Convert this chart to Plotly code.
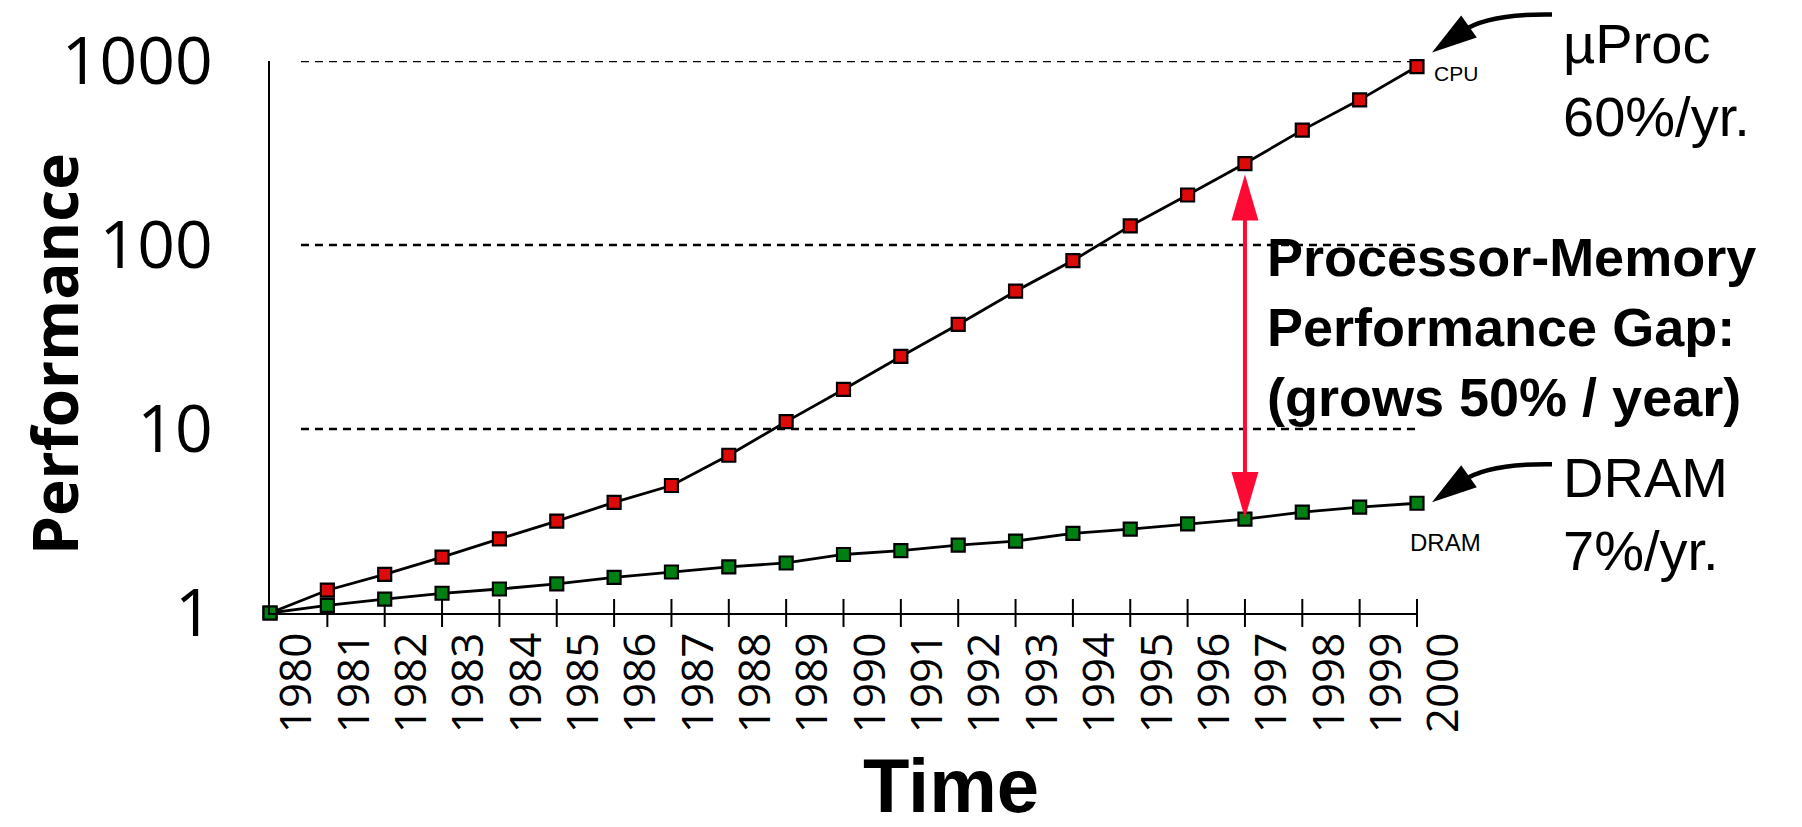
import math
import plotly.graph_objects as go

# ---------------- data ----------------
years = list(range(1980, 2001))
year_labels = [str(y) for y in years]
cpu_perf = [1.0, 1.33, 1.62, 2.01, 2.53, 3.16, 3.99, 4.93, 7.2, 10.97, 16.4,
            24.8, 37.0, 56.1, 82.3, 127, 187, 277, 421, 615, 933]
dram_perf = [1.0, 1.10, 1.19, 1.28, 1.35, 1.44, 1.56, 1.67, 1.78, 1.87, 2.08,
             2.18, 2.34, 2.46, 2.71, 2.86, 3.05, 3.24, 3.53, 3.76, 3.95]
y_tick_values = [1, 10, 100, 1000]
y_tick_labels = ["1", "10", "100", "1000"]
gap_year = 1997

# ---------------- layout geometry ----------------
W, H = 1802, 827
DX, DY = -8, -8
L, R, T, B = 270 + DX, 1417 + DX, 61 + DY, 613 + DY
X_RANGE = [years[0], years[-1]]
Y_RANGE = [math.log10(y_tick_values[0]), math.log10(y_tick_values[-1])]


def px(xp):
    return (xp + DX - L) / (R - L)


def py(yp):
    return (B - (yp + DY)) / (B - T)


def apx(xp):
    return (xp - L) / (R - L)


def apy(yp):
    return (B - yp) / (B - T)


def xfrac(v):
    return (v - X_RANGE[0]) / (X_RANGE[1] - X_RANGE[0])


def yfrac(v):
    return (math.log10(v) - Y_RANGE[0]) / (Y_RANGE[1] - Y_RANGE[0])


RED = "#dd0a0a"
GREEN = "#007f12"
GAPRED = "#ff0a35"

fig = go.Figure()

# crossing tick marks on the time axis
fig.add_trace(go.Scatter(
    x=years[1:], y=[y_tick_values[0]] * (len(years) - 1), mode="markers",
    marker=dict(symbol="line-ns", size=20, line=dict(width=2, color="black")),
    hoverinfo="skip", showlegend=False, cliponaxis=False))

fig.add_trace(go.Scatter(
    x=years, y=cpu_perf, mode="lines+markers", name="CPU",
    line=dict(color="black", width=2.8),
    marker=dict(symbol="square", size=13, color=RED, line=dict(color="black", width=2.2)),
    showlegend=False, cliponaxis=False))

fig.add_trace(go.Scatter(
    x=years, y=dram_perf, mode="lines+markers", name="DRAM",
    line=dict(color="black", width=2.8),
    marker=dict(symbol="square", size=13, color=GREEN, line=dict(color="black", width=2.2)),
    showlegend=False, cliponaxis=False))

shapes = []
# dashed reference lines at the decade ticks
for v in y_tick_values[1:]:
    shapes.append(dict(type="line", xref="x", yref="y", x0=years[0] + 0.54, x1=years[-1],
                       y0=v, y1=v, line=dict(color="black", width=2.4, dash="8px,6px"),
                       layer="below"))

gi = years.index(gap_year)
# red double arrow heads (pixel sized, anchored on the data points)
shapes.append(dict(type="path", xref="x", yref="y", xsizemode="pixel", ysizemode="pixel",
                   xanchor=gap_year, yanchor=cpu_perf[gi],
                   path="M0,-11 L-13.5,-57 L13.5,-57 Z",
                   fillcolor=GAPRED, line=dict(width=0)))
shapes.append(dict(type="path", xref="x", yref="y", xsizemode="pixel", ysizemode="pixel",
                   xanchor=gap_year, yanchor=dram_perf[gi],
                   path="M0,1 L-13.5,47 L13.5,47 Z",
                   fillcolor=GAPRED, line=dict(width=0)))


# black curved pointer arrows to the last points (paper refs so they are not clipped)
def pointer(anchor_val, tx, ty):
    def p(dx, dy):
        return f"{tx + dx:.1f},{ty + dy:.1f}"
    common = dict(type="path", xref="paper", yref="paper", xsizemode="pixel",
                  ysizemode="pixel", xanchor=xfrac(years[-1]), yanchor=yfrac(anchor_val))
    head = dict(common, path=f"M{p(0, 0)} L{p(29.2, 37.0)} L{p(44.8, 15.0)} Z",
                fillcolor="black", line=dict(width=0))
    shaft = dict(common, path=f"M{p(30, 21)} Q{p(56, 39)} {p(120, 38)}",
                 fillcolor="rgba(0,0,0,0)", line=dict(width=4.5, color="black"))
    return [head, shaft]


shapes += pointer(cpu_perf[-1], 15, 14)
shapes += pointer(dram_perf[-1], 15, 1)

annotations = [
    # red shaft between the two curves
    dict(x=gap_year, y=math.log10(dram_perf[gi]), ax=gap_year, ay=math.log10(cpu_perf[gi]),
         xref="x", yref="y", axref="x", ayref="y", text="", showarrow=True,
         arrowhead=0, arrowwidth=4, arrowcolor=GAPRED, standoff=20, startstandoff=40),
    dict(x=px(1265), y=py(327), xref="paper", yref="paper", xanchor="left", yanchor="middle",
         align="left", showarrow=False,
         text="Processor-Memory<br>Performance Gap:<br>(grows 50% / year)",
         font=dict(family="Liberation Sans", size=54, color="black", weight="bold")),
    dict(x=px(1561), y=py(80), xref="paper", yref="paper", xanchor="left", yanchor="middle",
         align="left", showarrow=False, text="µProc<br>60%/yr.",
         font=dict(family="Liberation Sans", size=56, color="black")),
    dict(x=px(1561), y=py(514), xref="paper", yref="paper", xanchor="left", yanchor="middle",
         align="left", showarrow=False, text="DRAM<br>7%/yr.",
         font=dict(family="Liberation Sans", size=56, color="black")),
    dict(x=px(1432), y=py(73), xref="paper", yref="paper", xanchor="left", yanchor="middle",
         showarrow=False, text="CPU",
         font=dict(family="Liberation Sans", size=21, color="black")),
    dict(x=px(1408), y=py(542), xref="paper", yref="paper", xanchor="left", yanchor="middle",
         showarrow=False, text="DRAM",
         font=dict(family="Liberation Sans", size=24, color="black")),
    # axis titles
    dict(x=px(951), y=0, xref="paper", yref="paper", yshift=-(H - B) + 5,
         xanchor="center", yanchor="bottom",
         showarrow=False, text="Time",
         font=dict(family="Liberation Sans", size=76, color="black", weight="bold")),
    dict(x=apx(46), y=apy(346), xref="paper", yref="paper", textangle=-90,
         xanchor="center", yanchor="middle", showarrow=False, text="Performance",
         font=dict(family="Open Sans", size=62, color="black", weight="bold")),
]

fig.update_layout(
    width=W, height=H,
    margin=dict(l=L, r=W - R, t=T, b=H - B, autoexpand=False),
    paper_bgcolor="white", plot_bgcolor="white",
    showlegend=False,
    shapes=shapes,
    annotations=annotations,
    xaxis=dict(range=X_RANGE, tickvals=years, ticktext=year_labels,
               tickangle=-90, ticks="", showline=True, linecolor="black", linewidth=2,
               showgrid=False, zeroline=False, ticklabelshift=27, ticklabelstandoff=0,
               tickfont=dict(family="Open Sans", size=44, color="black")),
    yaxis=dict(type="log", range=Y_RANGE, tickvals=y_tick_values, ticktext=y_tick_labels,
               ticks="", showline=True, linecolor="black", linewidth=2,
               showgrid=False, zeroline=False, ticklabelstandoff=42,
               tickfont=dict(family="Open Sans", size=66, color="black")),
)

fig.write_html("out.html")
